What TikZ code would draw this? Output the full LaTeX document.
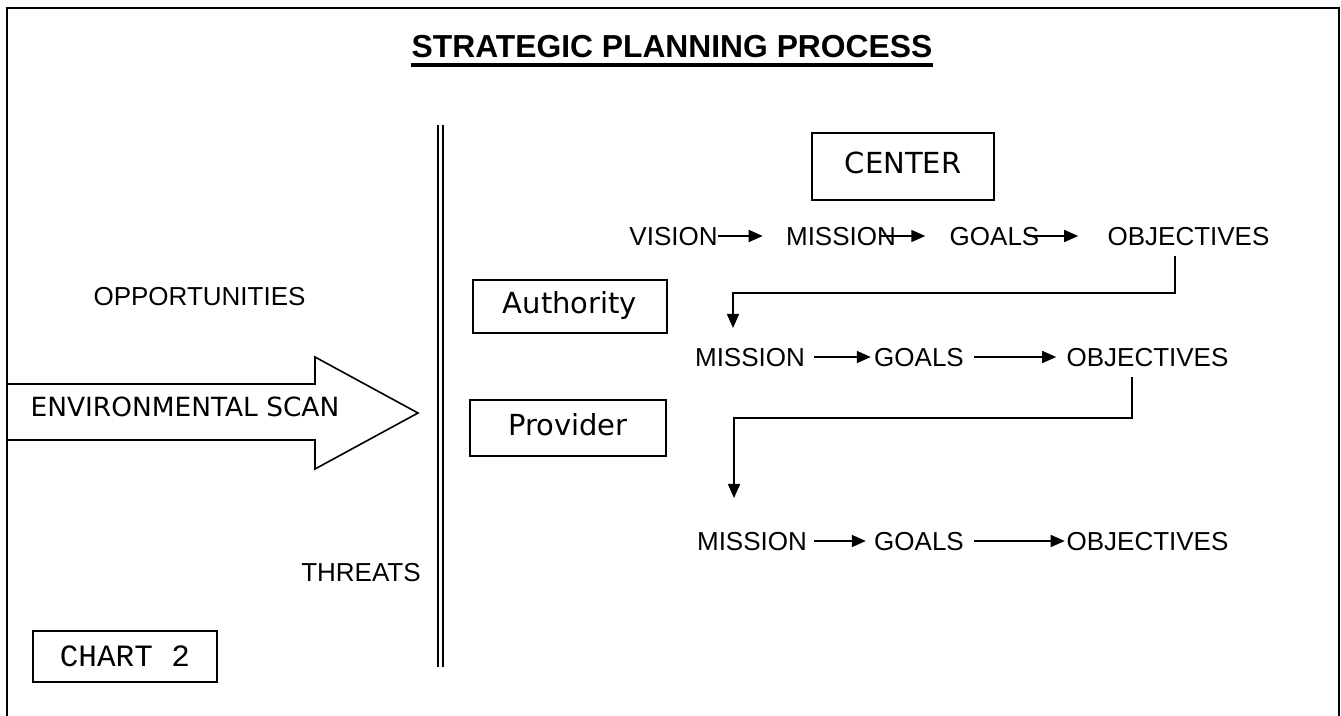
\documentclass[tikz,border=0pt]{standalone}
\usepackage{fontspec}
\setmainfont{Liberation Sans}
\newfontfamily\boxfont{DejaVu Sans}
\newfontfamily\typefont{Liberation Mono}
\usetikzlibrary{arrows.meta}

\tikzset{
  word/.style={font=\fontsize{13}{15}\selectfont, inner xsep=0pt, inner ysep=5pt, text height=9.4pt, text depth=0pt},
  level/.style={draw, line width=0.8pt, font=\boxfont\fontsize{14.5}{17}\selectfont, minimum height=26.5pt, text height=10.5pt, text depth=3pt},
  flow/.style={-{Triangle[length=7pt,width=6pt]}, line width=0.8pt},
}

\begin{document}
\begin{tikzpicture}[x=0.5pt, y=-0.5pt]
  \useasboundingbox (0,0) rectangle (1341,716);
  % page frame, open at the bottom
  \draw[line width=1.1pt] (7,716) -- (7,8) -- (1339,8) -- (1339,716);
  \node[font=\fontsize{15.9}{18}\selectfont\bfseries, inner sep=0pt, anchor=base] at (672,58) (title) {STRATEGIC PLANNING PROCESS};
  \draw[line width=1.7pt] ([yshift=-3.6pt]title.base west) -- ([yshift=-3.6pt]title.base east);
  % divider
  \draw[line width=1pt, double distance=1.5pt] (440.5,125) -- (440.5,667);
  % environment side
  \draw[line width=0.8pt] (7,384) -- (315,384) -- (315,357) -- (418,413) -- (315,469) -- (315,440) -- (7,440);
  \node[font=\boxfont\fontsize{13.2}{15}\selectfont, inner sep=0pt] at (185,407) (scan) {ENVIRONMENTAL SCAN};
  \node[word] at (199.5,296) (opp) {OPPORTUNITIES};
  \node[word] at (361,572) (thr) {THREATS};
  \node[draw, line width=0.8pt, font=\typefont\fontsize{15.5}{18}\selectfont, minimum width=92pt, minimum height=25.5pt] at (125,656.5) (chart) {CHART 2};
  % levels
  \node[level, minimum width=91pt, minimum height=33.5pt] at (903,166.5) (ctr) {CENTER};
  \node[level, minimum width=97pt] at (570,306.5) (auth) {Authority};
  \node[level, minimum width=98pt, minimum height=28pt] at (568,428) (prov) {Provider};
  % center row
  \node[word] at (673.5,236) (V1) {VISION};
  \node[word] at (841,236) (M1) {MISSION};
  \node[word] at (994.5,236) (G1) {GOALS};
  \node[word] at (1188.5,236) (O1) {OBJECTIVES};
  % authority row
  \node[word] at (750,357) (M2) {MISSION};
  \node[word] at (919,357) (G2) {GOALS};
  \node[word] at (1147.5,357) (O2) {OBJECTIVES};
  % provider row
  \node[word] at (752,541) (M3) {MISSION};
  \node[word] at (919,541) (G3) {GOALS};
  \node[word] at (1147.5,541) (O3) {OBJECTIVES};
  \coordinate (T1) at (733,328);
  \coordinate (T2) at (734,498);
  \draw[flow] (V1.east) -- ([xshift=-11.5pt]M1.west);
  \draw[flow] ([xshift=-7.5pt]M1.east) -- ([xshift=-12pt]G1.west);
  \draw[flow] ([xshift=-6pt]G1.east) -- ([xshift=-14.5pt]O1.west);
  \draw[flow] ([xshift=4.5pt]M2.east) -- ([xshift=-1.5pt]G2.west);
  \draw[flow] ([xshift=5pt]G2.east) -- ([xshift=-5pt]O2.west);
  \draw[flow] ([xshift=3.5pt]M3.east) -- ([xshift=-4pt]G3.west);
  \draw[flow] ([xshift=5pt]G3.east) -- ([xshift=-0.75pt]O3.west);
  \draw[flow] ([xshift=-6.75pt]O1.south) -- ++(0,37) -| (T1);
  \draw[flow] ([xshift=-7.75pt]O2.south) -- ++(0,41) -| (T2);
\end{tikzpicture}
\end{document}
